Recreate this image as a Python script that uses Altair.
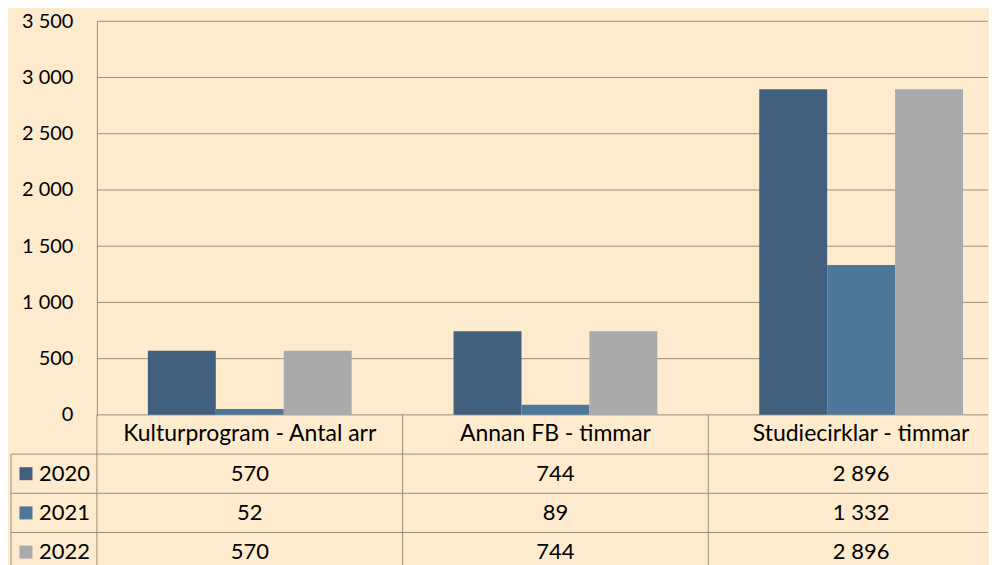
import altair as alt
import pandas as pd

categories = ["Kulturprogram - Antal arr", "Annan FB - timmar", "Studiecirklar - timmar"]
years = ["2020", "2021", "2022"]
v2020 = [570, 744, 2896]
v2021 = [52, 89, 1332]
v2022 = [570, 744, 2896]
colors = ["#41607e", "#4f7799", "#a9aaac"]
y_ticks = [0, 500, 1000, 1500, 2000, 2500, 3000, 3500]

rows = []
for yr, vals in zip(years, [v2020, v2021, v2022]):
    for c, v in zip(categories, vals):
        rows.append({"cat": c, "year": yr, "row": yr, "value": v,
                     "label": f"{v:,}".replace(",", " ")})
df = pd.DataFrame(rows)
hdr = pd.DataFrame({"cat": categories, "row": ["header"] * len(categories)})
yr_df = pd.DataFrame({"year": years, "row": years})

FONT = "Lato"
FS = 22
BORDER = "#9b8d79"
BG = "#feebcd"
ROWS = ["header"] + years
W = 892
H = 394
TH = 157


def xsc():
    return alt.Scale(domain=categories, range=[0, 918], paddingInner=0, paddingOuter=0)


def ysc_rows():
    return alt.Scale(domain=ROWS, paddingInner=0, paddingOuter=0)


yval_scale = alt.Scale(domain=[0, 3500], nice=False)
yaxis = alt.Axis(title=None, values=y_ticks, grid=False, ticks=False,
                 domainColor=BORDER, labelFontSize=20, labelFont=FONT,
                 labelColor="black", labelPadding=24,
                 labelExpr="replace(format(datum.value, ','), ',', ' ')")
color = alt.Color("year:N", scale=alt.Scale(domain=years, range=colors), legend=None)

grid = alt.Chart(pd.DataFrame({"value": y_ticks})).mark_rule(color=BORDER).encode(
    y=alt.Y("value:Q", scale=yval_scale, axis=yaxis),
    x=alt.value(0), x2=alt.value(W),
)

bars = alt.Chart(df).mark_bar().encode(
    x=alt.X("cat:N", scale=xsc(), sort=categories, axis=None),
    xOffset=alt.XOffset("year:N", scale=alt.Scale(domain=years, paddingInner=0, paddingOuter=0.75)),
    y=alt.Y("value:Q", scale=yval_scale, axis=yaxis),
    color=color,
)

top = alt.layer(grid, bars).properties(width=W, height=H)

yrow = alt.Y("row:N", scale=ysc_rows(), axis=None)
xcat = alt.X("cat:N", scale=xsc(), sort=categories, axis=None)

text = alt.Chart(df).mark_text(fontSize=FS, font=FONT, color="black").encode(
    x=xcat, y=yrow, text="label:N"
)

header = alt.Chart(hdr).mark_text(fontSize=23, font=FONT, color="black").encode(
    x=xcat, y=yrow, text="cat:N"
)

row_labels = alt.Chart(yr_df).mark_text(
    fontSize=FS, font=FONT, color="black", align="right"
).encode(x=alt.value(-7), y=yrow, text="year:N")

squares = alt.Chart(yr_df).mark_point(
    shape="square", filled=True, size=170, opacity=1
).encode(x=alt.value(-71), y=yrow, color=color)

hlines = alt.Chart(yr_df).mark_rule(color=BORDER).encode(
    y=alt.Y("row:N", scale=ysc_rows(), axis=None, bandPosition=0),
    x=alt.value(-86), x2=alt.value(W),
)

vlines = alt.Chart(pd.DataFrame({"cat": categories})).mark_rule(color=BORDER).encode(
    x=alt.X("cat:N", scale=xsc(), sort=categories, axis=None, bandPosition=0),
    y=alt.value(0), y2=alt.value(TH),
)

left_border = alt.Chart(yr_df.head(1)).mark_rule(color=BORDER).encode(
    x=alt.value(-86),
    y=alt.Y("row:N", scale=ysc_rows(), axis=None, bandPosition=0),
    y2=alt.value(TH),
)

table = alt.layer(hlines, vlines, left_border, squares, row_labels, header, text).properties(
    width=W, height=TH
)

chart = alt.vconcat(top, table, spacing=0, bounds="flush").properties(
    background=BG,
    padding={"left": 2, "top": 3, "right": 0, "bottom": 0},
).configure_view(stroke=None)

chart.save("out.html", embed_options={"renderer": "svg", "actions": False})
